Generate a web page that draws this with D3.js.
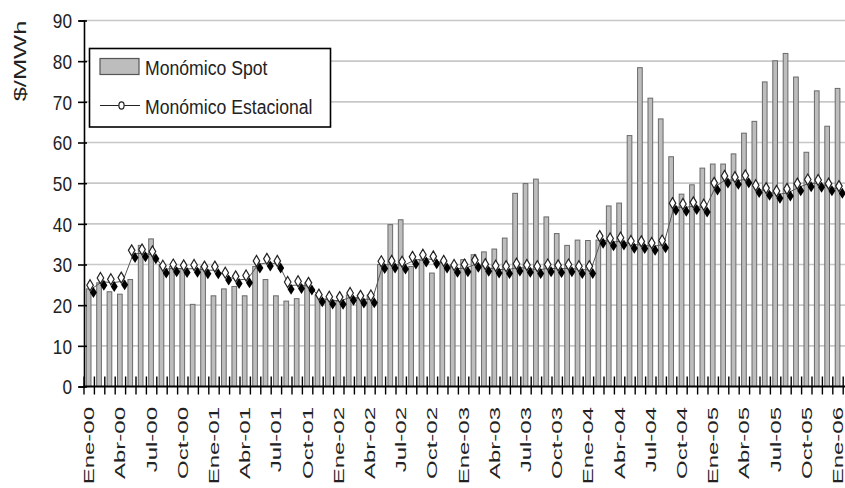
<!DOCTYPE html>
<html>
<head>
<meta charset="utf-8">
<script src="https://cdn.jsdelivr.net/npm/d3@7"></script>
<style>
  body { margin: 0; background: #fff; }
  svg { display: block; font-family: "Liberation Sans", Arial, sans-serif; }
</style>
</head>
<body>
<div id="chart"></div>
<script>
// Datos mensuales Ene-00 .. Ene-06 ($/MWh)
const monthNames = ["Ene", "Feb", "Mar", "Abr", "May", "Jun", "Jul", "Ago", "Sep", "Oct", "Nov", "Dic"];
const years = ["00", "01", "02", "03", "04", "05", "06"];

const spot = [
  24, 25.5, 23.3, 22.7, 26.3, 34.7, 36.3, 30, 29.5, 29, 20.2, 29.5,
  22.3, 24, 24.6, 22.3, 29.5, 26.3, 22.3, 21, 21.6, 25.4, 22.5, 21.5,
  21, 22.5, 21.9, 22.5, 30, 39.8, 41, 29.5, 31, 27.9, 30.5, 29.8,
  31.2, 32.4, 33.1, 33.8, 36.5, 47.5, 49.9, 51, 41.7, 37.6, 34.7, 36,
  35.9, 36, 44.4, 45.1, 61.7, 78.4, 70.9, 65.8, 56.5, 47.3, 49.6, 53.7,
  54.7, 54.7, 57.2, 62.3, 65.2, 74.9, 80.1, 81.9, 76.1, 57.6, 72.7, 64,
  73.3
];

const estacional = [
  24.0, 25.8, 25.5, 25.9, 32.6, 32.8, 32.3, 28.8, 29.1, 28.9, 29.0, 28.6,
  28.6, 27.1, 26.2, 26.4, 30.0, 30.5, 30.0, 24.8, 25.0, 24.6, 21.7, 21.2,
  21.1, 22.1, 21.4, 21.5, 29.9, 30.0, 29.8, 31.0, 31.5, 31.1, 30.0, 29.0,
  29.1, 30.2, 29.2, 28.8, 28.7, 29.3, 29.0, 28.7, 29.1, 28.9, 29.1, 28.7,
  28.7, 36.1, 35.5, 35.7, 34.9, 34.8, 34.4, 35.0, 44.2, 44.0, 44.4, 43.8,
  49.2, 50.9, 50.6, 51.0, 48.6, 47.9, 47.2, 47.7, 49.0, 50.0, 49.9, 49.0,
  48.4
];

const tickLabels = [
  "Ene-00", "Abr-00", "Jul-00", "Oct-00", "Ene-01", "Abr-01", "Jul-01", "Oct-01",
  "Ene-02", "Abr-02", "Jul-02", "Oct-02", "Ene-03", "Abr-03", "Jul-03", "Oct-03",
  "Ene-04", "Abr-04", "Jul-04", "Oct-04", "Ene-05", "Abr-05", "Jul-05", "Oct-05",
  "Ene-06"
];
const yTicks = [0, 10, 20, 30, 40, 50, 60, 70, 80, 90];
const seriesNames = ["Monómico Spot", "Monómico Estacional"];

// categorias: un mes por barra
const months = [];
years.forEach(yy => monthNames.forEach(m => months.push(m + "-" + yy)));
months.length = spot.length;

const width = 845, height = 488;
const svg = d3.select("#chart").append("svg")
  .attr("width", width)
  .attr("height", height);

const x = d3.scaleBand().domain(months).range([83.5, 842.7]).paddingInner(0.55).paddingOuter(0.27);
const xEdge = d3.scaleLinear().domain([0, months.length]).range([83.5, 842.7]);
const y = d3.scaleLinear().domain([0, 90]).range([386.5, 20.5]);
const cx = m => x(m) + x.bandwidth() / 2;

// lineas de grilla
svg.append("g").selectAll("line")
  .data(yTicks.filter(d => d > 0))
  .join("line")
  .attr("x1", 84).attr("x2", width)
  .attr("y1", d => y(d)).attr("y2", d => y(d))
  .attr("stroke", "#c8c8c8").attr("stroke-width", 1.6);

// barras spot
svg.append("g").selectAll("rect")
  .data(spot)
  .join("rect")
  .attr("x", (d, i) => x(months[i]))
  .attr("width", x.bandwidth())
  .attr("y", d => y(d))
  .attr("height", d => y(0) - y(d))
  .attr("fill", "#bdbdbd")
  .attr("stroke", "#6a6a6a")
  .attr("stroke-width", 1);

// eje y
const yAxis = svg.append("g")
  .attr("transform", "translate(84,0)")
  .call(d3.axisLeft(y).tickValues(yTicks).tickSize(5).tickFormat(d3.format("d")));
yAxis.select(".domain").attr("stroke", "#000").attr("stroke-width", 1.6);
yAxis.selectAll(".tick line").attr("x1", -6).attr("x2", 3).attr("stroke", "#000").attr("stroke-width", 1.6);
yAxis.selectAll(".tick text")
  .attr("x", -14)
  .attr("dy", "0.36em")
  .attr("transform", "scale(0.86,1)")
  .attr("font-size", 20)
  .attr("font-family", "Liberation Sans, Arial, sans-serif")
  .attr("fill", "#222");

// eje x
const xAxis = svg.append("g")
  .attr("transform", `translate(0,${y(0)})`)
  .call(d3.axisBottom(xEdge).tickValues(d3.range(months.length + 1)).tickFormat(""));
xAxis.select(".domain").attr("stroke", "#000").attr("stroke-width", 1.8).attr("d", `M83.5,0H${width}`);
xAxis.selectAll(".tick line").attr("y1", -10).attr("y2", 8).attr("stroke", "#000").attr("stroke-width", 1.4);

// etiquetas de meses (rotadas)
svg.append("g").selectAll("text")
  .data(tickLabels)
  .join("text")
  .attr("transform", d => `translate(${cx(d)},407) rotate(-90) scale(1.5,0.95)`)
  .attr("text-anchor", "end")
  .attr("dy", "0.36em")
  .attr("font-size", 16)
  .attr("fill", "#222")
  .text(d => d);

// titulo eje y
svg.append("text")
  .attr("transform", "translate(20,61) rotate(-90) scale(1.5,1)")
  .attr("text-anchor", "middle")
  .attr("dy", "0.36em")
  .attr("font-size", 17)
  .attr("fill", "#222")
  .text("$/MWh");

// linea estacional
const px = i => cx(months[i]) + 3;
svg.append("path")
  .datum(estacional)
  .attr("fill", "none")
  .attr("stroke", "#555")
  .attr("stroke-width", 1)
  .attr("d", d3.line().x((d, i) => px(i)).y(d => y(d)));

const diamond = (w, h) => `M0,${-h / 2}L${w / 2},0L0,${h / 2}L${-w / 2},0Z`;
const pts = svg.append("g").selectAll("g")
  .data(estacional)
  .join("g")
  .attr("transform", (d, i) => `translate(${px(i)},${y(d)})`);
pts.append("path")
  .attr("d", diamond(6.5, 11))
  .attr("transform", "translate(-1.6,-3.6)")
  .attr("fill", "#fff")
  .attr("stroke", "#222")
  .attr("stroke-width", 1.2);
pts.append("path")
  .attr("d", diamond(7, 11))
  .attr("transform", "translate(1.8,3.6)")
  .attr("fill", "#000");

// leyenda
const legend = svg.append("g");
legend.append("rect")
  .attr("x", 89.5).attr("y", 48.5).attr("width", 241).attr("height", 78.5)
  .attr("fill", "#fff").attr("stroke", "#000").attr("stroke-width", 1.6);
legend.append("rect")
  .attr("x", 100).attr("y", 58.5).attr("width", 39).attr("height", 16)
  .attr("fill", "#bdbdbd").attr("stroke", "#555").attr("stroke-width", 1.2);
legend.append("line")
  .attr("x1", 100).attr("x2", 140).attr("y1", 105.5).attr("y2", 105.5)
  .attr("stroke", "#222").attr("stroke-width", 1.2);
legend.append("ellipse")
  .attr("cx", 121.5).attr("cy", 105.5).attr("rx", 2.6).attr("ry", 3.6)
  .attr("fill", "#fff").attr("stroke", "#222").attr("stroke-width", 1.2);
legend.selectAll("text.lg")
  .data(seriesNames)
  .join("text")
  .attr("class", "lg")
  .attr("transform", (d, i) => `translate(145,${i === 0 ? 67 : 106}) scale(0.84,1)`)
  .attr("dy", "0.36em")
  .attr("font-size", 21)
  .attr("fill", "#222")
  .text(d => d);
</script>
</body>
</html>
